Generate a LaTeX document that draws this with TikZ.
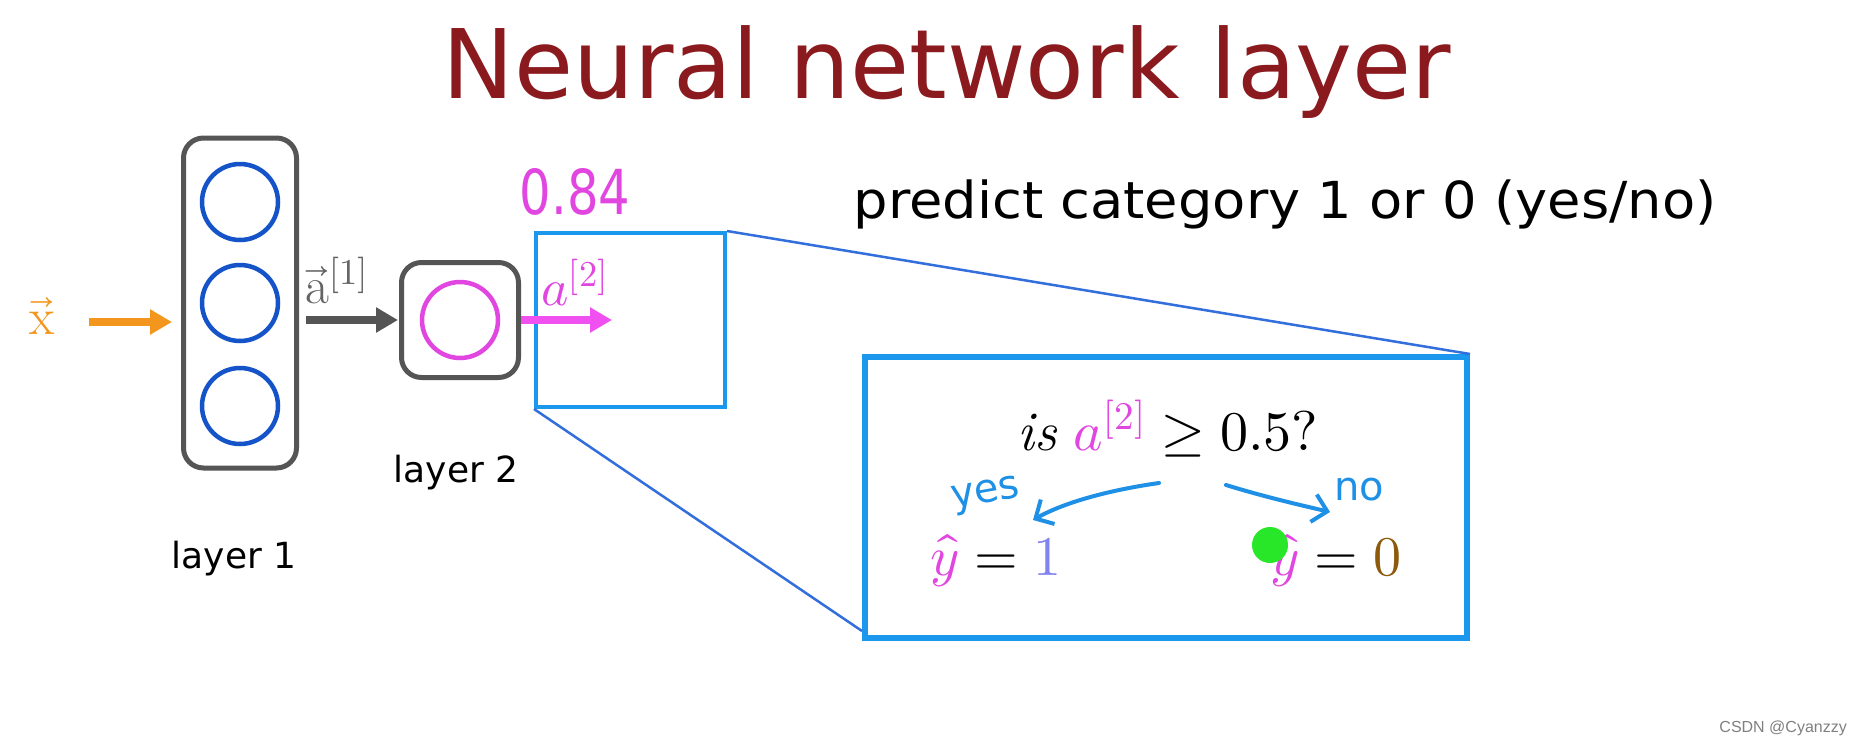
\documentclass[tikz,border=0pt]{standalone}
\usepackage{unicode-math}
\setmathfont{Latin Modern Math}
\usetikzlibrary{arrows.meta}
\newfontfamily\vfont{DejaVu Sans}
\newfontfamily\wmfont{Liberation Sans}
\newcommand\myfs[1]{\fontsize{#1}{#1}\selectfont}
\definecolor{titlered}{RGB}{139,26,30}
\definecolor{lgray}{RGB}{85,85,85}
\definecolor{agray}{RGB}{100,100,100}
\definecolor{nblue}{RGB}{21,84,200}
\definecolor{mag}{RGB}{225,70,225}
\definecolor{magarrow}{RGB}{240,80,240}
\definecolor{xorange}{RGB}{243,150,30}
\definecolor{zblue}{RGB}{27,152,238}
\definecolor{lblue}{RGB}{50,110,220}
\definecolor{hblue}{RGB}{30,144,230}
\definecolor{lav}{RGB}{130,130,240}
\definecolor{brownzero}{RGB}{140,90,10}
\definecolor{dotgreen}{RGB}{40,230,40}
\tikzset{
  layerbox/.style={draw=lgray, line width=5pt, rounded corners=20pt, inner sep=0pt},
  neuron/.style={circle, draw=nblue, line width=4.5pt, minimum size=76pt, inner sep=0pt},
  fatarrow/.style={line width=8pt, -{Triangle[length=22pt,width=24pt]}},
  zoombox/.style={draw=zblue, inner sep=0pt},
  zoomline/.style={draw=lblue, line width=2.5pt},
  hand/.style={line width=4pt, line cap=round, draw=hblue, -{Straight Barb[length=14pt,width=28pt]}},
  mathlabel/.style={font=\myfs{52}, inner sep=0pt},
  boxmath/.style={font=\myfs{56}, inner sep=0pt},
}
\begin{document}
\begin{tikzpicture}[x=1pt,y=-1pt]
\useasboundingbox (0,0) rectangle (1862,742);
\fill[white] (0,0) rectangle (1862,742);

% title
\node[anchor=base, font=\vfont\myfs{96}, text=titlered, inner sep=0pt] (title) at (947,98) {Neural network layer};
\node[anchor=base, font=\vfont\myfs{51}, inner sep=0pt] (pred) at (1285,218) {\scalebox{1.065}[1]{predict category 1 or 0 (yes/no)}};

% layer 1
\node[layerbox, minimum width=113pt, minimum height=330pt] (L1) at (240,303) {};
\node[neuron] (n1) at (240,202) {};
\node[neuron] (n2) at (240,303) {};
\node[neuron] (n3) at (240,406) {};
\node[anchor=base, font=\vfont\myfs{36}, inner sep=0pt] (lab1) at (234,568) {layer 1};

% layer 2
\node[layerbox, minimum width=117pt, minimum height=115pt] (L2) at (460,320) {};
\node[neuron, draw=mag] (n4) at (460,320) {};
\node[anchor=base, font=\vfont\myfs{36}, inner sep=0pt] (lab2) at (456,482) {layer 2};

% input arrow
\node[mathlabel, text=xorange] (xl) at (42,316) {$\vec{\mathrm{x}}$};
\coordinate (xin) at (89,322);
\draw[fatarrow, xorange] (xin) -- ([xshift=-9pt]xin -| L1.west);

% a1 arrow
\draw[fatarrow, lgray] ([xshift=7pt]L1.east |- L2.west) -- ([xshift=-1pt]L2.west);
\node[mathlabel, anchor=base west, text=agray] (a1) at (305,303) {$\vec{\mathrm{a}}^{[1]}$};

% zoom lines and boxes
\node[zoombox, line width=4pt, minimum width=189pt, minimum height=174pt] (zs) at (630.5,320) {};
\node[zoombox, line width=6pt, minimum width=602pt, minimum height=281pt] (zb) at (1166,497.5) {};
\draw[zoomline] (zs.north east) -- (zb.north east);
\draw[zoomline] (zs.south west) -- ([yshift=10pt]zb.south west);

% a2 arrow
\coordinate (a2end) at (612,320);
\draw[fatarrow, magarrow] (L2.east) -- (a2end);
\node[mathlabel, anchor=base west, text=mag] (a2) at (541,305) {$a^{[2]}$};
\node[font=\vfont\myfs{62}, text=mag, inner sep=0pt] (v) at (575,192) {\scalebox{0.8}[1]{0.84}};

% inside big box
\node[boxmath, anchor=base] (q) at (1168,450) {$\mathit{is}\ {\color{mag}a^{[2]}} \geq 0.5?$};
\node[boxmath, anchor=base west] (y1) at (930,575) {${\color{mag}\hat{y}} = {\color{lav}1}$};
\node[boxmath, anchor=base west] (y0) at (1270,575) {${\color{mag}\hat{y}} = {\color{brownzero}0}$};

\node[font=\vfont\myfs{40}, text=hblue, rotate=10, inner sep=0pt] (yes) at (986,496) {yes};
\node[font=\vfont\myfs{40}, text=hblue, inner sep=0pt] (no) at (1359,490) {no};

\coordinate (ys) at (1159,483);
\coordinate (ye) at (1033,520);
\draw[hand] (ys) .. controls (1110,490) and (1065,502) .. (ye);
\coordinate (ns) at (1226,485);
\coordinate (ne) at (1330,512);
\draw[hand] (ns) .. controls (1265,497) and (1300,505) .. (ne);

\node[circle, fill=dotgreen, minimum size=36pt, inner sep=0pt] (dot) at (1270,545) {};

\node[anchor=base east, font=\wmfont\myfs{16}, text=gray, inner sep=0pt] (wm) at (1847,732) {CSDN @Cyanzzy};
\end{tikzpicture}
\end{document}
